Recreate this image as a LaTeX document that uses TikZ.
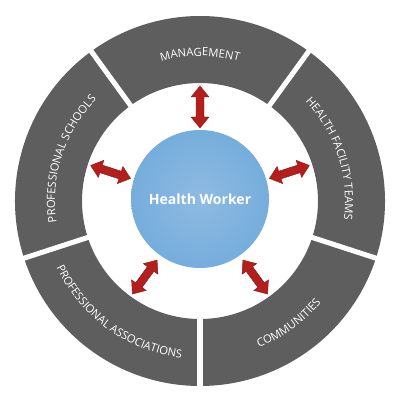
\documentclass[tikz,border=0pt]{standalone}
\usepackage{fontspec}
\setmainfont{Open Sans}
\usetikzlibrary{decorations.text}
\definecolor{ringgray}{HTML}{5E5E5E}
\definecolor{arrowred}{HTML}{B21F1C}
\definecolor{hwin}{HTML}{8FBBE2}
\definecolor{hwout}{HTML}{4894D0}
\pgfdeclareradialshading{hwshade}{\pgfpoint{0bp}{0bp}}{color(0bp)=(hwin); color(28bp)=(hwin!60!hwout); color(50bp)=(hwout)}
\newcommand{\seglabelfont}{\fontsize{8}{8}\selectfont\color{white}}
\newcommand{\segment}[2]{\fill[ringgray] (#1:118) arc (#1:#2:118) -- (#2:185) arc (#2:#1:185) -- cycle;}
\newcommand{\hwarrow}[1]{%
  \fill[arrowred, draw=arrowred!80!black, line width=0.3pt, rotate=#1]
    (73,0) -- (84,9) -- (84,4) -- (104,4) -- (104,9) -- (115,0)
    -- (104,-9) -- (104,-4) -- (84,-4) -- (84,-9) -- cycle;}
\tikzset{
  gap/.style={white, line width=3.6pt},
  seglabel/.style={decorate, decoration={text along path, text align=center, text={|\seglabelfont|#1}}},
}
\begin{document}
\begin{tikzpicture}[x=0.025cm, y=0.025cm]
\useasboundingbox (-200,-199) rectangle (200,201);
% ring segments
\segment{54}{126}
\segment{126}{198}
\segment{198}{270}
\segment{270}{342}
\segment{-18}{54}
% gaps
\foreach \a in {54,126,198,270,342} \draw[gap] (\a:110) -- (\a:192);
% labels
\path[seglabel={MANAGEMENT}] (126:145) arc (126:54:145);
\path[seglabel={PROFESSIONAL SCHOOLS}] (198:145) arc (198:126:145);
\path[seglabel={HEALTH FACILITY TEAMS}] (54:145) arc (54:-18:145);
\path[seglabel={PROFESSIONAL ASSOCIATIONS}] (198:158) arc (198:270:158);
\path[seglabel={COMMUNITIES}] (270:158) arc (270:342:158);
% center
\shade[shading=hwshade] (0,2) circle (69);
\node[text=white, font=\bfseries\fontsize{10}{12}\selectfont] (hw) at (0,2) {Health Worker};
% arrows
\hwarrow{90}
\hwarrow{162}
\hwarrow{234}
\hwarrow{306}
\hwarrow{18}
\end{tikzpicture}
\end{document}
